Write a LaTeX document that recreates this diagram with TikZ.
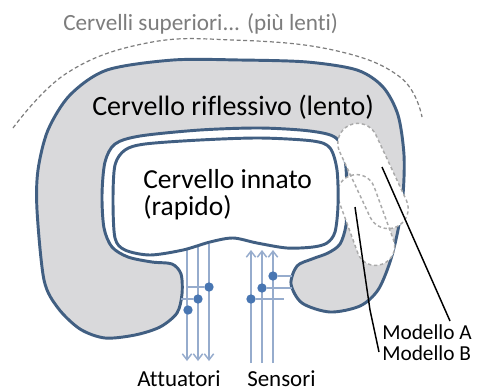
\documentclass[tikz,border=0pt]{standalone}
\usepackage{fontspec}
\setmainfont{Carlito}[Ligatures=NoCommon]
\usetikzlibrary{arrows.meta}
\definecolor{outl}{RGB}{65,95,130}
\definecolor{grayfill}{RGB}{217,217,219}
\definecolor{wire}{RGB}{150,172,205}
\definecolor{dotc}{RGB}{72,118,178}
\definecolor{titlec}{RGB}{125,125,125}
\definecolor{capd}{RGB}{170,170,170}
\begin{document}
\begin{tikzpicture}[x=0.75pt,y=-0.75pt,
  blob/.style={draw=outl, line width=2.2pt, line join=round},
  wireline/.style={draw=wire, line width=1.1pt},
  wiredown/.style={wireline, -{Straight Barb[length=4.5pt,width=7pt]}},
  dotn/.style={circle, fill=dotc, inner sep=0pt, minimum size=7pt},
  capsfill/.style={fill=white},
  capsline/.style={draw=capd, dashed, dash pattern=on 2.5pt off 2pt, line width=1.1pt},
  lbl/.style={inner sep=0pt, anchor=base west},
  leader/.style={draw=black, line width=1.1pt}]
\useasboundingbox (0,0) rectangle (477,390);
\fill[white] (0,0) rectangle (477,390);

% title and dashed arc
\node[lbl, text=titlec, font=\fontsize{17.4}{20}\selectfont] (title) at (63,30) {Cervelli superiori... (più lenti)};
\draw[draw=titlec, dashed, dash pattern=on 3pt off 2pt, line width=0.9pt]
  plot[smooth, tension=0.7] coordinates {(13,128) (67,73) (147,43) (233,40) (333,50) (400,77) (422,117)};

% outer reflective brain
\path[blob, fill=grayfill] plot[smooth cycle, tension=0.5] coordinates {
 (37,210) (38,170) (48,130) (70,95) (107,70) (173,60) (240,60) (307,62) (357,70)
 (383,87) (398,115) (404,155) (403,195) (398,230) (390,262) (378,290) (360,306)
 (330,312) (302,303) (291,284) (297,266) (312,259) (328,253) (340,244) (346,225)
 (347,195) (345,160) (336,138) (310,131) (260,128) (200,130) (140,136) (115,144)
 (105,162) (102,195) (104,228) (112,247) (128,257) (152,262) (172,264) (181,274)
 (182,294) (177,313) (160,327) (135,335) (105,338) (80,329) (58,308) (44,280)};

% models A and B
\begin{scope}[shift={(373,176)}, rotate=25]
  \path[capsfill, rounded corners=15pt] (-20,-56) rectangle (20,56);
\end{scope}
\begin{scope}[shift={(366,220)}, rotate=20]
  \path[capsfill, rounded corners=14pt] (-19,-47) rectangle (19,47);
\end{scope}
\begin{scope}[shift={(373,176)}, rotate=25]
  \path[capsline, rounded corners=15pt] (-20,-56) rectangle (20,56);
\end{scope}
\begin{scope}[shift={(366,220)}, rotate=20]
  \path[capsline, rounded corners=14pt] (-19,-47) rectangle (19,47);
\end{scope}

% wires: actuators (down) and sensors (up)
\coordinate (a1t) at (187,248); \coordinate (a1b) at (187,361);
\coordinate (a2t) at (198,246); \coordinate (a2b) at (198,361);
\coordinate (a3t) at (209,244); \coordinate (a3b) at (209,361);
\coordinate (s1b) at (251,363); \coordinate (s1t) at (251,250);
\coordinate (s2b) at (262,363); \coordinate (s2t) at (262,250);
\coordinate (s3b) at (273,363); \coordinate (s3t) at (273,250);
\draw[wiredown] (a1t) -- (a1b);
\draw[wiredown] (a2t) -- (a2b);
\draw[wiredown] (a3t) -- (a3b);
\draw[wiredown] (s1b) -- (s1t);
\draw[wiredown] (s2b) -- (s2t);
\draw[wiredown] (s3b) -- (s3t);

% inner innate brain
\path[blob, fill=white] plot[smooth cycle, tension=0.5] coordinates {
 (113,200) (115,165) (125,150) (145,144) (200,140) (260,138) (313,141) (330,148)
 (337,170) (338,205) (335,232) (327,243) (313,247) (287,248) (257,243) (233,238)
 (210,242) (183,250) (150,255) (125,250) (115,238)};

% synapse dots
\node[dotn] (d1) at (209,287) {};
\node[dotn] (d2) at (198,299) {};
\node[dotn] (d3) at (188,310) {};
\node[dotn] (d4) at (273,276) {};
\node[dotn] (d5) at (262,288) {};
\node[dotn] (d6) at (251,299) {};
\coordinate (h1) at (186,287); \coordinate (h2) at (181,299);
\coordinate (h4) at (292,276); \coordinate (h5) at (292,288); \coordinate (h6) at (284,299);
\draw[wireline] (d1) -- (h1);
\draw[wireline] (d2) -- (h2);
\draw[wireline] (d4) -- (h4);
\draw[wireline] (d5) -- (h5);
\draw[wireline] (d6) -- (h6);

% texts
\node[lbl, font=\fontsize{21}{24}\selectfont] (rifl) at (92,115) {Cervello riflessivo (lento)};
\node[lbl, font=\fontsize{20.6}{24}\selectfont] (inn1) at (143,188) {Cervello innato};
\node[lbl, font=\fontsize{20.6}{24}\selectfont] (inn2) at (143,215) {(rapido)};
\node[lbl, font=\fontsize{17.2}{20}\selectfont] (att) at (137,386) {Attuatori};
\node[lbl, font=\fontsize{17.2}{20}\selectfont] (sen) at (247,386) {Sensori};
\node[lbl, font=\fontsize{16}{18}\selectfont] (modA) at (382,339) {Modello A};
\node[lbl, font=\fontsize{16}{18}\selectfont] (modB) at (382,360) {Modello B};

% leader lines
\coordinate (pA) at (382,167); \coordinate (eA) at (450,321);
\coordinate (pB) at (355,207); \coordinate (kB) at (370,310); \coordinate (eB) at (379,352);
\draw[leader] (pA) -- (eA);
\draw[leader] (pB) -- (kB) -- (eB);
\end{tikzpicture}
\end{document}
